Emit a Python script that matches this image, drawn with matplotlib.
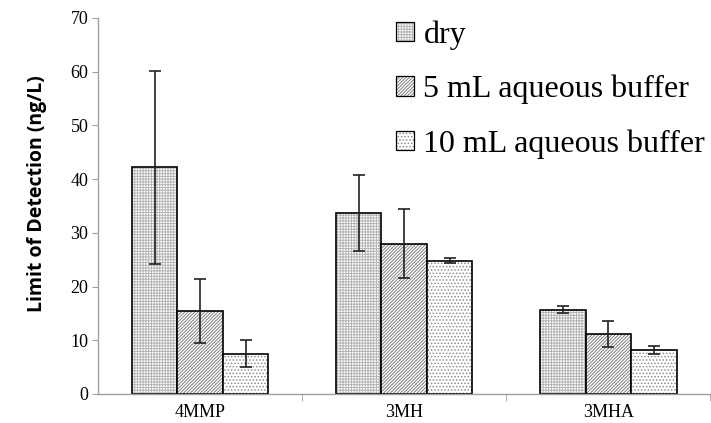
import matplotlib
matplotlib.use("Agg")
import matplotlib.pyplot as plt
import numpy as np
from matplotlib.patches import Patch

categories = ["4MMP", "3MH", "3MHA"]
series = ["dry", "5 mL aqueous buffer", "10 mL aqueous buffer"]
dry = [42.2, 33.7, 15.7]
dry_err = [18.0, 7.0, 0.6]
buf5 = [15.4, 28.0, 11.2]
buf5_err = [6.0, 6.4, 2.4]
buf10 = [7.5, 24.8, 8.2]
buf10_err = [2.5, 0.5, 0.8]
yticks = [0, 10, 20, 30, 40, 50, 60, 70]

values = [dry, buf5, buf10]
errors = [dry_err, buf5_err, buf10_err]
hatches = ["++++++", "//////////", "....."]
hatch_cols = ["#b4b4b4", "#808080", "#8c8c8c"]

plt.rcParams["hatch.linewidth"] = 0.7
fig = plt.figure(figsize=(7.11, 4.23), dpi=100)
ax = fig.add_axes([0.138, 0.0686, 0.861, 0.889])

x = np.arange(len(categories))
w = 0.223
for i, (v, e) in enumerate(zip(values, errors)):
    pos = x + (i - 1) * w
    ax.bar(pos, v, w, color="white", edgecolor=hatch_cols[i], hatch=hatches[i], linewidth=0)
    ax.bar(pos, v, w, color="none", edgecolor="black", linewidth=1.2)
    ax.errorbar(pos, v, yerr=e, fmt="none", ecolor="#222222", elinewidth=1.2, capsize=4, capthick=1.2)

ax.set_xlim(-0.5, 2.5)
ax.set_ylim(0, 70)
ax.set_yticks(yticks)
ax.set_yticklabels([str(t) for t in yticks], fontfamily="Liberation Serif", fontsize=13)
ax.set_xticks(x)
ax.set_xticklabels(categories, fontfamily="Liberation Serif", fontsize=13)
ax.tick_params(axis="x", length=0, pad=7)
ax.set_xticks([0.5, 1.5, 2.5], minor=True)
ax.tick_params(axis="x", which="minor", length=5, color="#a0a0a0", direction="out")
ax.tick_params(axis="y", length=4, color="#a0a0a0", direction="out", pad=3)
for s in ["top", "right"]:
    ax.spines[s].set_visible(False)
for s in ["left", "bottom"]:
    ax.spines[s].set_color("#a0a0a0")
    ax.spines[s].set_linewidth(1.0)

ax.set_ylabel("Limit of Detection (ng/L)", fontfamily="Open Sans", fontweight="bold", fontsize=14)
ax.yaxis.set_label_coords(-0.083, 0.532)

handles = []
for i in range(3):
    hp = Patch(facecolor="white", edgecolor=hatch_cols[i], hatch=hatches[i], linewidth=0)
    ep = Patch(facecolor="none", edgecolor="black", linewidth=0.9)
    handles.append((hp, ep))
leg = ax.legend(handles, series, loc="upper left", bbox_to_anchor=(0.44, 1.07), frameon=False,
                prop={"family": "Liberation Serif", "size": 23}, handlelength=0.55, handleheight=0.55,
                handletextpad=0.3, labelspacing=0.78)

fig.savefig("out.png", dpi=100)
